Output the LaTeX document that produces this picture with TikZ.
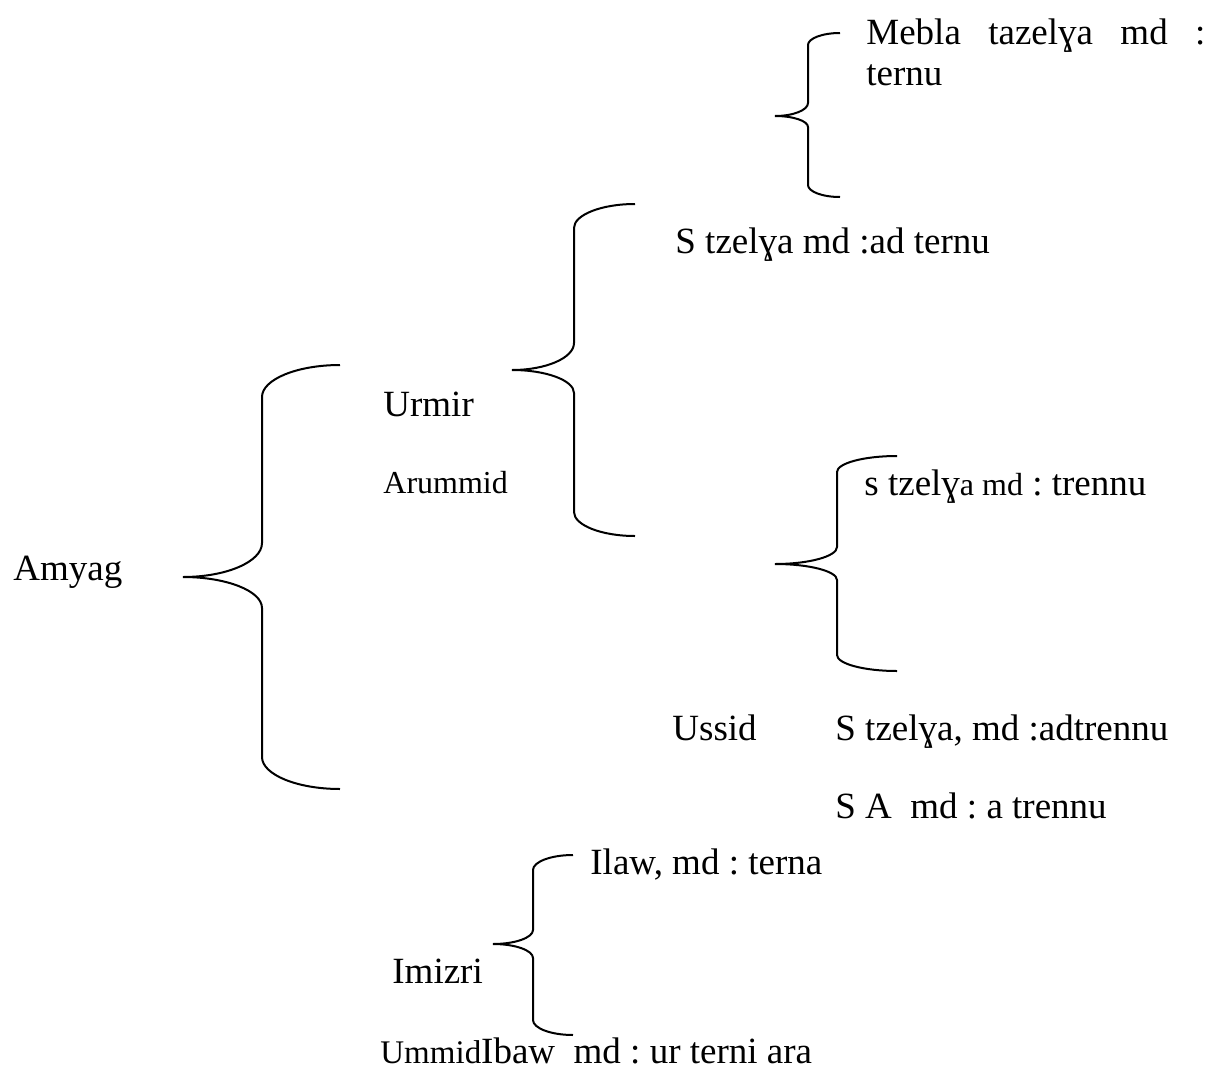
\documentclass[tikz,border=0pt]{standalone}
\usepackage{fontspec}
\setmainfont{Liberation Serif}
\frenchspacing

% curly bracket: xend, xvert, xtip, ytop, yvert1, yvert2, ytip, yvert3, yvert4
\newcommand{\curlybr}[9]{%
  \draw[br] (#1,#4) .. controls ({#2+0.45*(#1-#2)},#4) and (#2,{#4+0.45*(#5-#4)}) .. (#2,#5)
    -- (#2,#6) .. controls (#2,{#6+0.55*(#7-#6)}) and ({#3+0.55*(#2-#3)},#7) .. (#3,#7)
    .. controls ({#3+0.55*(#2-#3)},#7) and (#2,{#8-0.55*(#8-#7)}) .. (#2,#8)
    -- (#2,#9) .. controls (#2,{#9+0.55*(#5-#4)}) and ({#2+0.45*(#1-#2)},{#9+#5-#4}) .. (#1,{#9+#5-#4});}

\begin{document}
\begin{tikzpicture}[
    x=0.5pt, y=-0.5pt,
    br/.style={draw, line width=1pt},
    lbl/.style={inner sep=0pt, anchor=base west, font=\fontsize{18.5}{20.5}\selectfont},
    sml/.style={inner sep=0pt, anchor=base west, font=\fontsize{16}{19}\selectfont}
]
    \useasboundingbox (0,0) rectangle (1212,1071);

    \node [lbl] (amyag) at (13,580) {Amyag};
    \node [lbl] (urmir) at (383,416) {Urmir};
    \node [sml] (arummid) at (383,493) {Arummid};
    \node [lbl, text width=169.5pt, align=justify] (mebla) at (866,44) {Mebla tazelɣa md : \mbox{ternu}};
    \node [lbl] (stzelya) at (675,253) {S tzelɣa md :ad ternu};
    \node [lbl] (stzelyb) at (864,495) {s tzelɣ{\fontsize{16}{19}\selectfont a md} : trennu};
    \node [lbl] (ussid) at (672,740) {Ussid};
    \node [lbl] (stzelyc) at (835,740) {S tzelɣa, md :adtrennu};
    \node [lbl] (sa) at (835,818) {S A\ \ md : a trennu};
    \node [lbl] (ilaw) at (590,874) {Ilaw, md : terna};
    \node [lbl] (imizri) at (392,983) {Imizri};
    \node [lbl] (ummid) at (380,1063) {{\fontsize{16.5}{19}\selectfont Ummid}Ibaw\ \ md : ur terni ara};

    \curlybr{340}{262}{183}{365}{397}{543}{577}{608}{757}
    \curlybr{635}{574}{512}{204}{228}{343}{370}{393}{512}
    \curlybr{840}{808}{775}{33}{45}{103}{116}{127}{185}
    \curlybr{897}{837}{775}{456}{472}{547}{564}{580}{655}
    \curlybr{573}{533}{493}{855}{870}{930}{944}{958}{1020}

\end{tikzpicture}
\end{document}
